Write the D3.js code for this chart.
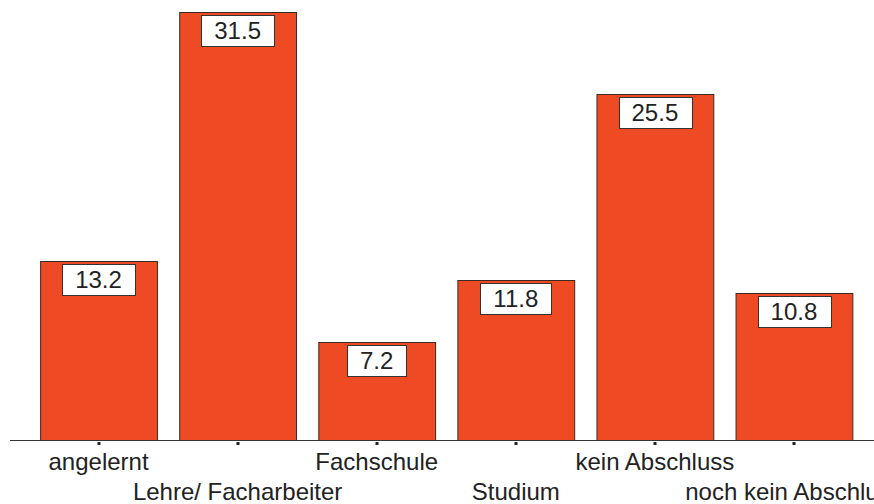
<!DOCTYPE html>
<html>
<head>
<meta charset="utf-8">
<script src="https://cdn.jsdelivr.net/npm/d3@7"></script>
<style>
  html, body { margin: 0; padding: 0; background: #fff; }
  svg { display: block; }
  text { font-family: "Liberation Sans", Arial, Helvetica, sans-serif; fill: #222; }
</style>
</head>
<body>
<svg id="chart" width="874" height="504"></svg>
<script>
const categories = ["angelernt", "Lehre/ Facharbeiter", "Fachschule", "Studium", "kein Abschluss", "noch kein Abschluss"];
const values = [13.2, 31.5, 7.2, 11.8, 25.5, 10.8];
const valueLabels = ["13.2", "31.5", "7.2", "11.8", "25.5", "10.8"];

const svg = d3.select("#chart");
const baseY = 440;

const x = d3.scaleBand()
  .domain(categories)
  .range([29, 863.5])
  .paddingInner(0.16)
  .paddingOuter(0.08);

const y = d3.scaleLinear()
  .domain([0, 31.5])
  .range([baseY, 12]);

const data = categories.map((c, i) => ({ cat: c, val: values[i], label: valueLabels[i], i }));

// bars
svg.append("g").selectAll("rect")
  .data(data)
  .join("rect")
  .attr("x", d => x(d.cat) + 0.5)
  .attr("y", d => Math.round(y(d.val)) + 0.5)
  .attr("width", x.bandwidth())
  .attr("height", d => baseY - Math.round(y(d.val)))
  .attr("fill", "#EE4A24")
  .attr("stroke", "#3a2a26")
  .attr("stroke-width", 1);

// axis line
svg.append("line")
  .attr("x1", 10).attr("x2", 874)
  .attr("y1", baseY + 0.5).attr("y2", baseY + 0.5)
  .attr("stroke", "#333").attr("stroke-width", 1.2);

// tick marks (small squares)
svg.append("g").selectAll("rect")
  .data(data)
  .join("rect")
  .attr("x", d => Math.round(x(d.cat) + x.bandwidth() / 2) - 1.5)
  .attr("y", baseY + 2)
  .attr("width", 3)
  .attr("height", 3)
  .attr("fill", "#222");

// tick labels, alternating rows
svg.append("g").selectAll("text")
  .data(data)
  .join("text")
  .attr("x", d => x(d.cat) + x.bandwidth() / 2)
  .attr("y", d => d.i % 2 === 0 ? 470 : 500)
  .attr("text-anchor", "middle")
  .attr("font-size", 24)
  .text(d => d.cat);

// value label boxes
const lg = svg.append("g").selectAll("g")
  .data(data)
  .join("g");

lg.each(function(d) {
  const g = d3.select(this);
  const cx = x(d.cat) + x.bandwidth() / 2;
  const top = Math.round(y(d.val)) + 3;
  const rect = g.append("rect");
  const t = g.append("text")
    .attr("x", cx)
    .attr("y", top + 24)
    .attr("text-anchor", "middle")
    .attr("font-size", 24)
    .text(d.label);
  const w = t.node().getComputedTextLength() + 26;
  rect.attr("x", Math.round(cx - w / 2) + 0.5)
    .attr("y", top + 0.5)
    .attr("width", Math.round(w))
    .attr("height", 31)
    .attr("fill", "#fff")
    .attr("stroke", "#333")
    .attr("stroke-width", 1);
});
</script>
</body>
</html>
